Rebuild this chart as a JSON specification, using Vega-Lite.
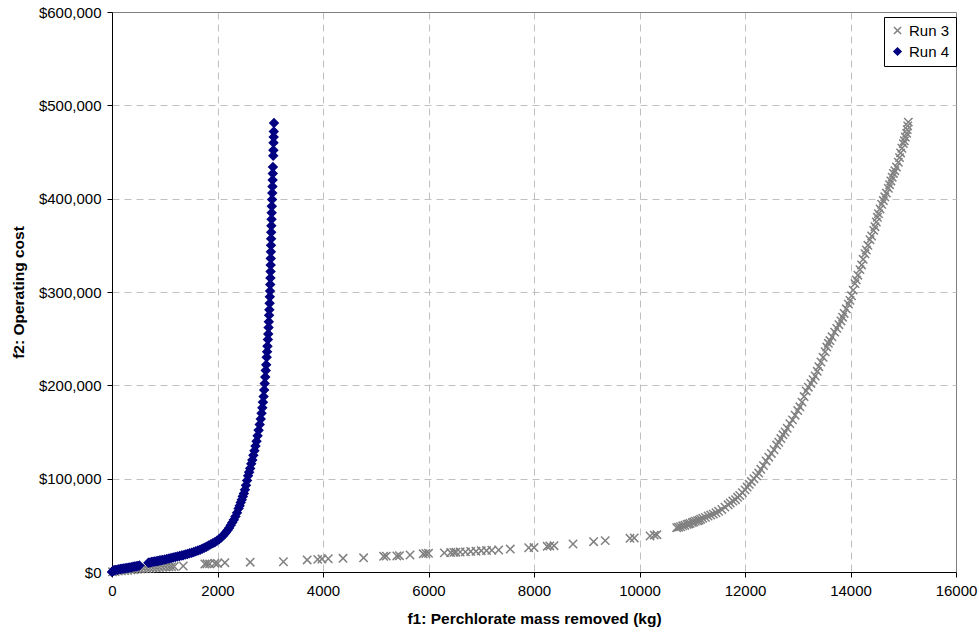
{
  "$schema": "https://vega.github.io/schema/vega-lite/v6.json",
  "width": 844,
  "height": 560,
  "autosize": "none",
  "padding": {"left": 112, "top": 12, "right": 23, "bottom": 62},
  "background": "white",
  "config": {
    "font": "Liberation Sans",
    "view": {"stroke": null},
    "axis": {
      "labelFont": "Liberation Sans",
      "labelFontSize": 15,
      "labelColor": "#000",
      "titleFont": "Liberation Sans",
      "titleFontSize": 15.5,
      "titleFontWeight": "bold",
      "titleColor": "#000",
      "domainColor": "#000",
      "tickColor": "#000",
      "tickSize": 5,
      "gridColor": "#c0c0c0",
      "gridDash": [7, 5]
    },
    "legend": {
      "orient": "none",
      "legendX": 772,
      "legendY": 5,
      "strokeColor": "#000",
      "fillColor": "white",
      "padding": 6,
      "labelFont": "Liberation Sans",
      "labelFontSize": 15,
      "labelColor": "#000",
      "symbolSize": 50,
      "rowPadding": 5,
      "labelOffset": 4
    }
  },
  "data": {
    "values": [
      {"run":"Run 3","x":10,"y":200},{"run":"Run 3","x":60,"y":600},{"run":"Run 3","x":120,"y":900},{"run":"Run 3","x":180,"y":1300},{"run":"Run 3","x":240,"y":1600},{"run":"Run 3","x":300,"y":1900},{"run":"Run 3","x":360,"y":2200},{"run":"Run 3","x":420,"y":2500},{"run":"Run 3","x":480,"y":2800},{"run":"Run 3","x":540,"y":3100},{"run":"Run 3","x":600,"y":3400},{"run":"Run 3","x":660,"y":3700},{"run":"Run 3","x":720,"y":4000},{"run":"Run 3","x":780,"y":4300},{"run":"Run 3","x":840,"y":4500},{"run":"Run 3","x":900,"y":4800},{"run":"Run 3","x":960,"y":5000},{"run":"Run 3","x":1020,"y":5300},{"run":"Run 3","x":1080,"y":5500},{"run":"Run 3","x":1130,"y":5700},{"run":"Run 3","x":1180,"y":5900},{"run":"Run 3","x":1350,"y":6400},{"run":"Run 3","x":1760,"y":8600},{"run":"Run 3","x":1800,"y":8800},{"run":"Run 3","x":1850,"y":8700},{"run":"Run 3","x":1950,"y":9300},{"run":"Run 3","x":2000,"y":9200},{"run":"Run 3","x":2140,"y":10000},{"run":"Run 3","x":2620,"y":10500},{"run":"Run 3","x":3250,"y":11000},{"run":"Run 3","x":3700,"y":12900},{"run":"Run 3","x":3900,"y":13500},{"run":"Run 3","x":3980,"y":14000},{"run":"Run 3","x":4100,"y":14200},{"run":"Run 3","x":4380,"y":14700},{"run":"Run 3","x":4770,"y":15200},{"run":"Run 3","x":5150,"y":16800},{"run":"Run 3","x":5200,"y":17000},{"run":"Run 3","x":5400,"y":17200},{"run":"Run 3","x":5450,"y":17500},{"run":"Run 3","x":5650,"y":18200},{"run":"Run 3","x":5900,"y":19500},{"run":"Run 3","x":5950,"y":19800},{"run":"Run 3","x":6000,"y":20000},{"run":"Run 3","x":6300,"y":20500},{"run":"Run 3","x":6420,"y":20800},{"run":"Run 3","x":6480,"y":21000},{"run":"Run 3","x":6520,"y":21200},{"run":"Run 3","x":6600,"y":21400},{"run":"Run 3","x":6700,"y":21600},{"run":"Run 3","x":6800,"y":22000},{"run":"Run 3","x":6900,"y":22200},{"run":"Run 3","x":7000,"y":22800},{"run":"Run 3","x":7100,"y":23000},{"run":"Run 3","x":7200,"y":23300},{"run":"Run 3","x":7330,"y":23600},{"run":"Run 3","x":7550,"y":24600},{"run":"Run 3","x":7900,"y":26000},{"run":"Run 3","x":8000,"y":26200},{"run":"Run 3","x":8250,"y":27500},{"run":"Run 3","x":8300,"y":27900},{"run":"Run 3","x":8380,"y":28200},{"run":"Run 3","x":8740,"y":30000},{"run":"Run 3","x":9130,"y":32500},{"run":"Run 3","x":9350,"y":33600},{"run":"Run 3","x":9820,"y":36100},{"run":"Run 3","x":9900,"y":36500},{"run":"Run 3","x":10200,"y":38600},{"run":"Run 3","x":10280,"y":39500},{"run":"Run 3","x":10330,"y":40000},
      {"run":"Run 3","x":10705,"y":47500},{"run":"Run 3","x":10740,"y":48000},{"run":"Run 3","x":10780,"y":48500},{"run":"Run 3","x":10820,"y":49500},{"run":"Run 3","x":10860,"y":50000},{"run":"Run 3","x":10900,"y":51000},{"run":"Run 3","x":10930,"y":51500},{"run":"Run 3","x":10960,"y":52000},{"run":"Run 3","x":11000,"y":53000},{"run":"Run 3","x":11030,"y":53500},{"run":"Run 3","x":11060,"y":54500},{"run":"Run 3","x":11100,"y":55000},{"run":"Run 3","x":11130,"y":55500},{"run":"Run 3","x":11160,"y":56500},{"run":"Run 3","x":11200,"y":57500},{"run":"Run 3","x":11250,"y":58500},{"run":"Run 3","x":11300,"y":60000},{"run":"Run 3","x":11350,"y":61000},{"run":"Run 3","x":11400,"y":62000},{"run":"Run 3","x":11450,"y":63500},{"run":"Run 3","x":11500,"y":65000},{"run":"Run 3","x":11560,"y":67000},{"run":"Run 3","x":11620,"y":69500},{"run":"Run 3","x":11680,"y":72000},{"run":"Run 3","x":11720,"y":74000},{"run":"Run 3","x":11770,"y":76000},{"run":"Run 3","x":11820,"y":77500},{"run":"Run 3","x":11860,"y":80000},{"run":"Run 3","x":11900,"y":82000},{"run":"Run 3","x":11950,"y":85000},{"run":"Run 3","x":12000,"y":88000},{"run":"Run 3","x":12040,"y":91000},{"run":"Run 3","x":12080,"y":94000},{"run":"Run 3","x":12120,"y":97000},{"run":"Run 3","x":12170,"y":100000},{"run":"Run 3","x":12220,"y":103000},{"run":"Run 3","x":12260,"y":106000},{"run":"Run 3","x":12300,"y":110000},{"run":"Run 3","x":12350,"y":114000},{"run":"Run 3","x":12400,"y":119000},{"run":"Run 3","x":12450,"y":123000},{"run":"Run 3","x":12500,"y":127000},{"run":"Run 3","x":12550,"y":131000},{"run":"Run 3","x":12600,"y":136000},{"run":"Run 3","x":12640,"y":139000},{"run":"Run 3","x":12680,"y":143000},{"run":"Run 3","x":12720,"y":147000},{"run":"Run 3","x":12760,"y":150000},{"run":"Run 3","x":12800,"y":154000},{"run":"Run 3","x":12850,"y":159000},{"run":"Run 3","x":12900,"y":163000},{"run":"Run 3","x":12950,"y":168000},{"run":"Run 3","x":13000,"y":173000},{"run":"Run 3","x":13040,"y":177000},{"run":"Run 3","x":13080,"y":182000},{"run":"Run 3","x":13120,"y":188000},{"run":"Run 3","x":13160,"y":194000},{"run":"Run 3","x":13200,"y":198000},{"run":"Run 3","x":13250,"y":202000},{"run":"Run 3","x":13290,"y":206000},{"run":"Run 3","x":13330,"y":210000},{"run":"Run 3","x":13370,"y":215000},{"run":"Run 3","x":13400,"y":220000},{"run":"Run 3","x":13440,"y":225000},{"run":"Run 3","x":13480,"y":230000},{"run":"Run 3","x":13520,"y":236000},{"run":"Run 3","x":13550,"y":241000},{"run":"Run 3","x":13580,"y":245000},{"run":"Run 3","x":13610,"y":248000},{"run":"Run 3","x":13650,"y":252000},{"run":"Run 3","x":13700,"y":257000},{"run":"Run 3","x":13740,"y":261000},{"run":"Run 3","x":13780,"y":265000},{"run":"Run 3","x":13820,"y":269000},{"run":"Run 3","x":13850,"y":273000},{"run":"Run 3","x":13880,"y":277000},{"run":"Run 3","x":13920,"y":282000},{"run":"Run 3","x":13960,"y":287000},{"run":"Run 3","x":13990,"y":291000},{"run":"Run 3","x":14020,"y":296000},{"run":"Run 3","x":14050,"y":302000},{"run":"Run 3","x":14085,"y":309000},{"run":"Run 3","x":14110,"y":313000},{"run":"Run 3","x":14140,"y":318000},{"run":"Run 3","x":14180,"y":324000},{"run":"Run 3","x":14210,"y":329000},{"run":"Run 3","x":14240,"y":335000},{"run":"Run 3","x":14275,"y":341000},{"run":"Run 3","x":14300,"y":345000},{"run":"Run 3","x":14330,"y":350000},{"run":"Run 3","x":14370,"y":356000},{"run":"Run 3","x":14400,"y":360000},{"run":"Run 3","x":14440,"y":366000},{"run":"Run 3","x":14465,"y":370000},{"run":"Run 3","x":14490,"y":375000},{"run":"Run 3","x":14510,"y":380000},{"run":"Run 3","x":14530,"y":384000},{"run":"Run 3","x":14560,"y":389000},{"run":"Run 3","x":14590,"y":394000},{"run":"Run 3","x":14623,"y":398000},{"run":"Run 3","x":14650,"y":402000},{"run":"Run 3","x":14680,"y":406000},{"run":"Run 3","x":14718,"y":411000},{"run":"Run 3","x":14740,"y":415000},{"run":"Run 3","x":14765,"y":419000},{"run":"Run 3","x":14790,"y":423000},{"run":"Run 3","x":14813,"y":427000},{"run":"Run 3","x":14840,"y":430000},{"run":"Run 3","x":14870,"y":434000},{"run":"Run 3","x":14907,"y":439000},{"run":"Run 3","x":14930,"y":444000},{"run":"Run 3","x":14950,"y":449000},{"run":"Run 3","x":14975,"y":454000},{"run":"Run 3","x":15002,"y":459000},{"run":"Run 3","x":15020,"y":462000},{"run":"Run 3","x":15040,"y":466000},{"run":"Run 3","x":15065,"y":470000},{"run":"Run 3","x":15075,"y":474000},{"run":"Run 3","x":15085,"y":478000},{"run":"Run 3","x":15096,"y":482000},
      {"run":"Run 4","x":0,"y":0},{"run":"Run 4","x":15,"y":800},{"run":"Run 4","x":30,"y":1500},{"run":"Run 4","x":50,"y":1800},{"run":"Run 4","x":70,"y":2200},{"run":"Run 4","x":100,"y":2500},{"run":"Run 4","x":130,"y":2900},{"run":"Run 4","x":160,"y":3200},{"run":"Run 4","x":190,"y":3500},{"run":"Run 4","x":220,"y":3700},{"run":"Run 4","x":250,"y":4000},{"run":"Run 4","x":280,"y":4300},{"run":"Run 4","x":310,"y":4600},{"run":"Run 4","x":340,"y":4900},{"run":"Run 4","x":370,"y":5200},{"run":"Run 4","x":400,"y":5500},{"run":"Run 4","x":430,"y":5900},{"run":"Run 4","x":460,"y":6200},{"run":"Run 4","x":490,"y":6500},{"run":"Run 4","x":520,"y":6900},
      {"run":"Run 4","x":690,"y":9800},{"run":"Run 4","x":720,"y":10200},{"run":"Run 4","x":750,"y":10600},{"run":"Run 4","x":780,"y":11000},{"run":"Run 4","x":810,"y":11300},{"run":"Run 4","x":840,"y":11600},{"run":"Run 4","x":870,"y":11900},{"run":"Run 4","x":900,"y":12200},{"run":"Run 4","x":930,"y":12500},{"run":"Run 4","x":960,"y":12900},{"run":"Run 4","x":1000,"y":13400},{"run":"Run 4","x":1040,"y":13900},{"run":"Run 4","x":1080,"y":14400},{"run":"Run 4","x":1120,"y":15000},{"run":"Run 4","x":1160,"y":15500},{"run":"Run 4","x":1200,"y":16000},{"run":"Run 4","x":1240,"y":16600},{"run":"Run 4","x":1280,"y":17100},{"run":"Run 4","x":1320,"y":17600},{"run":"Run 4","x":1350,"y":18000},{"run":"Run 4","x":1390,"y":18700},{"run":"Run 4","x":1430,"y":19400},{"run":"Run 4","x":1470,"y":20000},{"run":"Run 4","x":1510,"y":20700},{"run":"Run 4","x":1550,"y":21500},{"run":"Run 4","x":1590,"y":22300},{"run":"Run 4","x":1630,"y":23000},{"run":"Run 4","x":1670,"y":23900},{"run":"Run 4","x":1710,"y":24900},{"run":"Run 4","x":1750,"y":25900},{"run":"Run 4","x":1790,"y":27000},{"run":"Run 4","x":1830,"y":28300},{"run":"Run 4","x":1870,"y":29600},{"run":"Run 4","x":1910,"y":30900},{"run":"Run 4","x":1950,"y":32000},{"run":"Run 4","x":1990,"y":33400},{"run":"Run 4","x":2030,"y":35000},{"run":"Run 4","x":2070,"y":37000},{"run":"Run 4","x":2100,"y":38700},{"run":"Run 4","x":2130,"y":40500},{"run":"Run 4","x":2160,"y":42500},{"run":"Run 4","x":2190,"y":44700},{"run":"Run 4","x":2220,"y":47200},{"run":"Run 4","x":2250,"y":50000},{"run":"Run 4","x":2280,"y":53000},{"run":"Run 4","x":2310,"y":56000},{"run":"Run 4","x":2340,"y":59500},{"run":"Run 4","x":2370,"y":63500},{"run":"Run 4","x":2400,"y":68000},{"run":"Run 4","x":2420,"y":71000},{"run":"Run 4","x":2440,"y":74500},{"run":"Run 4","x":2460,"y":77500},{"run":"Run 4","x":2480,"y":81000},{"run":"Run 4","x":2500,"y":84000},{"run":"Run 4","x":2520,"y":88000},{"run":"Run 4","x":2540,"y":93000},{"run":"Run 4","x":2560,"y":98000},{"run":"Run 4","x":2580,"y":103000},{"run":"Run 4","x":2600,"y":107000},{"run":"Run 4","x":2620,"y":111000},{"run":"Run 4","x":2640,"y":116000},{"run":"Run 4","x":2660,"y":120000},{"run":"Run 4","x":2680,"y":125000},{"run":"Run 4","x":2700,"y":130000},{"run":"Run 4","x":2720,"y":135000},{"run":"Run 4","x":2740,"y":140000},{"run":"Run 4","x":2760,"y":146000},{"run":"Run 4","x":2780,"y":152000},{"run":"Run 4","x":2800,"y":158000},{"run":"Run 4","x":2820,"y":164000},{"run":"Run 4","x":2835,"y":170000},{"run":"Run 4","x":2850,"y":176000},{"run":"Run 4","x":2862,"y":182000},{"run":"Run 4","x":2874,"y":188000},{"run":"Run 4","x":2885,"y":195000},{"run":"Run 4","x":2895,"y":202000},{"run":"Run 4","x":2905,"y":209000},{"run":"Run 4","x":2915,"y":216000},{"run":"Run 4","x":2923,"y":222000},{"run":"Run 4","x":2932,"y":230000},{"run":"Run 4","x":2940,"y":236000},{"run":"Run 4","x":2948,"y":242000},{"run":"Run 4","x":2955,"y":249000},{"run":"Run 4","x":2962,"y":255000},{"run":"Run 4","x":2968,"y":262000},{"run":"Run 4","x":2973,"y":268000},{"run":"Run 4","x":2978,"y":275000},{"run":"Run 4","x":2983,"y":281000},{"run":"Run 4","x":2988,"y":288000},{"run":"Run 4","x":2992,"y":295000},{"run":"Run 4","x":2996,"y":301000},{"run":"Run 4","x":3000,"y":308000},{"run":"Run 4","x":3003,"y":315000},{"run":"Run 4","x":3006,"y":322000},{"run":"Run 4","x":3008,"y":329000},{"run":"Run 4","x":3010,"y":336000},{"run":"Run 4","x":3012,"y":343000},{"run":"Run 4","x":3014,"y":350000},{"run":"Run 4","x":3016,"y":357000},{"run":"Run 4","x":3018,"y":364000},{"run":"Run 4","x":3021,"y":371000},{"run":"Run 4","x":3024,"y":378000},{"run":"Run 4","x":3027,"y":385000},{"run":"Run 4","x":3030,"y":392000},{"run":"Run 4","x":3034,"y":399000},{"run":"Run 4","x":3038,"y":406000},{"run":"Run 4","x":3042,"y":413000},{"run":"Run 4","x":3045,"y":420000},{"run":"Run 4","x":3048,"y":427000},{"run":"Run 4","x":3051,"y":434000},{"run":"Run 4","x":3057,"y":446000},{"run":"Run 4","x":3060,"y":452000},{"run":"Run 4","x":3062,"y":460000},{"run":"Run 4","x":3065,"y":466000},{"run":"Run 4","x":3067,"y":472000},{"run":"Run 4","x":3071,"y":481000}
    ]
  },
  "mark": {"type": "point", "strokeWidth": 1.5, "opacity": 1, "size": 70},
  "encoding": {
    "x": {
      "field": "x", "type": "quantitative",
      "scale": {"domain": [0, 16000], "nice": false, "zero": false},
      "axis": {
        "title": "f1: Perchlorate mass removed (kg)",
        "values": [0, 2000, 4000, 6000, 8000, 10000, 12000, 14000, 16000],
        "format": "d",
        "labelPadding": 6,
        "titlePadding": 13,
        "labelFlush": false,
        "gridColor": {"condition": {"test": "datum.value === 16000", "value": "#808080"}, "value": "#c0c0c0"},
        "gridDash": {"condition": {"test": "datum.value === 16000", "value": []}, "value": [7, 5]}
      }
    },
    "y": {
      "field": "y", "type": "quantitative",
      "scale": {"domain": [0, 600000], "nice": false},
      "axis": {
        "title": "f2: Operating cost",
        "values": [0, 100000, 200000, 300000, 400000, 500000, 600000],
        "format": "$,.0f",
        "labelPadding": 6,
        "titlePadding": 12,
        "labelFlush": false,
        "gridColor": {"condition": {"test": "datum.value === 600000", "value": "#808080"}, "value": "#c0c0c0"},
        "gridDash": {"condition": {"test": "datum.value === 600000", "value": []}, "value": [7, 5]}
      }
    },
    "fill": {
      "field": "run", "type": "nominal",
      "scale": {"domain": ["Run 3", "Run 4"], "range": ["transparent", "#000080"]},
      "legend": {"title": null}
    },
    "stroke": {
      "field": "run", "type": "nominal",
      "scale": {"domain": ["Run 3", "Run 4"], "range": ["#808080", "#000080"]},
      "legend": {"title": null}
    },
    "shape": {
      "field": "run", "type": "nominal",
      "scale": {"domain": ["Run 3", "Run 4"], "range": ["M-1,-1L1,1M-1,1L1,-1", "diamond"]},
      "legend": {"title": null}
    }
  }
}
